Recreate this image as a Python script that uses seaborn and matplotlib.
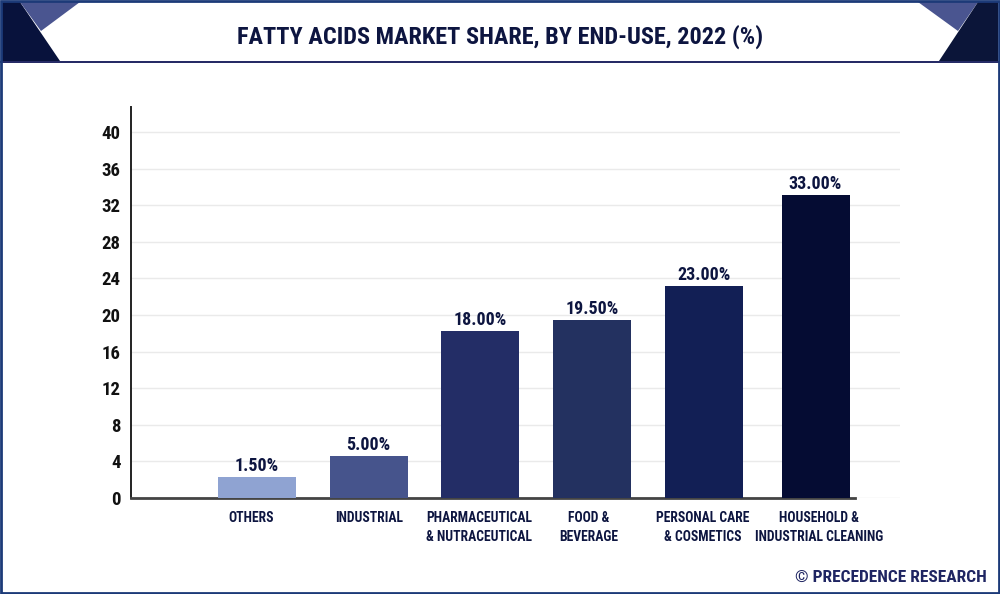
import matplotlib
matplotlib.use("Agg")
import matplotlib.pyplot as plt
from matplotlib.patches import Polygon, Rectangle
from matplotlib.transforms import ScaledTranslation
import seaborn as sns
import pandas as pd

categories = ["OTHERS", "INDUSTRIAL", "PHARMACEUTICAL\n& NUTRACEUTICAL", "FOOD &\nBEVERAGE",
              "PERSONAL CARE\n& COSMETICS", "HOUSEHOLD &\nINDUSTRIAL CLEANING"]
bar_heights = [2.3, 4.6, 18.2, 19.4, 23.2, 33.1]
bar_labels = ["1.50%", "5.00%", "18.00%", "19.50%", "23.00%", "33.00%"]
bar_colors = ["#8FA3D2", "#46548C", "#232D66", "#233160", "#121F55", "#050C33"]
y_ticks = list(range(0, 41, 4))
title = "FATTY ACIDS MARKET SHARE, BY END-USE, 2022 (%)"
credit = "© PRECEDENCE RESEARCH"

sns.set_theme(style="white")
plt.rcParams["font.family"] = ["Roboto Condensed", "DejaVu Sans"]
W, H = 1000, 594
fig = plt.figure(figsize=(W / 100, H / 100), dpi=100, facecolor="white")

def P(x, y):
    return (x / W, 1 - y / H)

def poly(pts, color, z=1):
    fig.add_artist(Polygon([P(*p) for p in pts], closed=True, facecolor=color,
                           edgecolor="none", transform=fig.transFigure, zorder=z))

poly([(2, 2), (20, 2), (60, 61), (2, 61)], "#08123C")
poly([(20, 2), (80, 2), (41, 31)], "#4A5590")
poly([(918, 2), (978, 2), (958, 31)], "#4A5590")
poly([(978, 2), (998, 2), (998, 61), (939, 61)], "#0B1539")
fig.add_artist(Rectangle(P(0, 62.5), 1, 1.5 / H, facecolor="#262B66", edgecolor="none",
                         transform=fig.transFigure, zorder=2))
fig.add_artist(Rectangle((0.001, 0.002), 0.998, 0.996, fill=False, edgecolor="#1C3A78",
                         linewidth=2, transform=fig.transFigure, zorder=3))

fig.text(0.5, 1 - 34 / H, title, ha="center", va="center_baseline", color="#0D1540",
         fontsize=17.5, fontweight="bold")
fig.text(987 / W, 1 - 576 / H, credit, ha="right", va="center_baseline", color="#1F2562",
         fontsize=12.5, fontweight="bold")

ax = fig.add_axes([131 / W, 1 - 498 / H, (900 - 131) / W, (498 - 107) / H])
df = pd.DataFrame({"cat": categories, "val": bar_heights})
sns.barplot(data=df, x="cat", y="val", hue="cat", palette=bar_colors, legend=False,
            width=0.698, saturation=1, ax=ax, zorder=3)
for p in ax.patches:
    p.set_edgecolor("none")
last = ax.patches[5]
last.set_x(5 - 0.295)
last.set_width(0.608)
ax.set_xlim(-1.128, 5.757)
ax.set_ylim(0, 42.73)
ax.set_xlabel("")
ax.set_ylabel("")
ax.set_facecolor("none")
ax.set_yticks(y_ticks)
ax.set_yticklabels([str(t) for t in y_ticks], fontsize=13.5, fontweight="bold", color="#111111")
ax.tick_params(axis="y", length=0, pad=7.5)
ax.tick_params(axis="x", length=0, pad=9.5)
ax.set_xticks(range(len(categories)))
ax.set_xticklabels(categories, fontsize=9.8, fontweight="bold", color="#0D1540", linespacing=1.48)
label_shift = [-6, 0, -1, -3, -1, 3.5]
for lab, dx in zip(ax.get_xticklabels(), label_shift):
    lab.set_transform(lab.get_transform() + ScaledTranslation(dx / 100, 0, fig.dpi_scale_trans))
ax.yaxis.grid(True, color="#EAEAEA", linewidth=1, zorder=0)
ax.xaxis.grid(False)
ax.set_axisbelow(True)
for s in ("top", "right"):
    ax.spines[s].set_visible(False)
ax.spines["left"].set_color("#222222")
ax.spines["left"].set_linewidth(1.4)
ax.spines["bottom"].set_color("#444444")
ax.spines["bottom"].set_linewidth(2)
ax.spines["bottom"].set_bounds(-1.128, 5.35)
ax.spines["bottom"].set_zorder(2.5)
for i, (h, lab) in enumerate(zip(bar_heights, bar_labels)):
    ax.annotate(lab, (i, h), xytext=(0, 1.5), textcoords="offset points", ha="center", va="bottom",
                fontsize=13, fontweight="bold", color="#0D1540", zorder=5)
fig.savefig("out.png", dpi=100, facecolor="white")
